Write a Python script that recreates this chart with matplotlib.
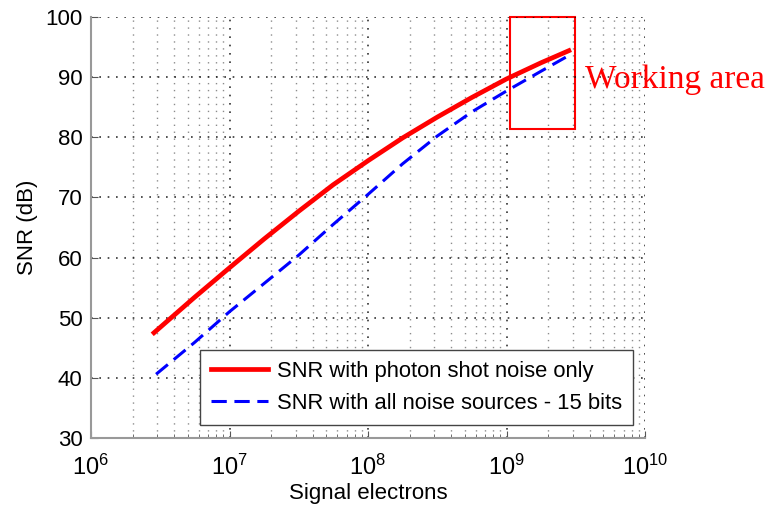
import matplotlib
matplotlib.use("Agg")
import matplotlib.pyplot as plt
from matplotlib.patches import Rectangle

# Data
x_red = [2.85e6, 5.6e6, 1e7, 1.78e7, 3.16e7, 5.6e7, 1e8, 1.78e8, 3.16e8, 5.6e8, 1e9, 1.78e9, 2.82e9]
snr_red = [47.5, 53.4, 58.3, 63.1, 67.7, 72.1, 76.1, 79.9, 83.35, 86.6, 89.7, 92.4, 94.4]
x_blue = [2.95e6, 5.6e6, 1e7, 1.78e7, 3.16e7, 5.6e7, 1e8, 1.78e8, 3.16e8, 5.6e8, 1e9, 1.78e9, 2.82e9]
snr_blue = [40.6, 45.9, 51.0, 55.7, 60.4, 65.5, 70.5, 75.6, 80.2, 84.2, 87.7, 91.0, 93.6]

red_label = "SNR with photon shot noise only"
blue_label = "SNR with all noise sources - 15 bits"
xlabel = "Signal electrons"
ylabel = "SNR (dB)"
xticks = [1e6, 1e7, 1e8, 1e9, 1e10]
xtick_labels = [r"$10^{6}$", r"$10^{7}$", r"$10^{8}$", r"$10^{9}$", r"$10^{10}$"]
yticks = [30, 40, 50, 60, 70, 80, 90, 100]
work_x = [1.06e9, 3.1e9]
work_y = [81.4, 100]
work_text = "Working area"

plt.rcParams['font.family'] = ['Liberation Sans', 'DejaVu Sans']
plt.rcParams['mathtext.fontset'] = 'custom'
plt.rcParams['mathtext.rm'] = 'Liberation Sans'
plt.rcParams['mathtext.it'] = 'Liberation Sans'

fig = plt.figure(figsize=(7.67, 5.08), dpi=100)
ax = fig.add_axes([91/767, 1 - 438/508, (645-91)/767, (438-17)/508])

ax.plot(x_red, snr_red, color='red', lw=3.4, label=red_label)
ax.plot(x_blue, snr_blue, color='blue', lw=2.2, ls=(0, (5, 2.5)), label=blue_label)

ax.set_xscale('log')
ax.set_xlim(1e6, 1e10)
ax.set_ylim(30, 100)
ax.set_xticks(xticks)
ax.set_xticklabels(xtick_labels, fontsize=17)
ax.set_yticks(yticks)
ax.set_yticklabels([str(v) for v in yticks], fontsize=16)

ax.grid(True, which='major', axis='both', ls=(0, (1, 4)), color='black', lw=1.2, alpha=0.8)
ax.grid(True, which='minor', axis='x', ls=(0, (1, 4)), color='black', lw=1.0, alpha=0.45)
ax.tick_params(axis='both', which='both', direction='in', colors='#555555', labelcolor='black')
ax.tick_params(axis='x', which='major', pad=12, length=5)
ax.tick_params(axis='x', which='minor', length=3)
ax.tick_params(axis='y', which='major', length=5, pad=6)

for side in ['top', 'right']:
    ax.spines[side].set_visible(False)
for side in ['left', 'bottom']:
    ax.spines[side].set_color('#999999')
    ax.spines[side].set_linewidth(1.5)

ax.set_xlabel(xlabel, fontsize=16, labelpad=2)
ax.set_ylabel(ylabel, fontsize=16)
ax.yaxis.set_label_coords(-0.096, 0.5)

rect = Rectangle((work_x[0], work_y[0]), work_x[1] - work_x[0], work_y[1] - work_y[0],
                 fill=False, edgecolor='red', lw=1.5, clip_on=False)
ax.add_patch(rect)
ax.text(3.7e9, 89.5, work_text, color='red', fontsize=24, family='Liberation Serif',
        va='center', ha='left', clip_on=False)

leg = ax.legend(loc='lower right', bbox_to_anchor=(633/767, 1 - 425/508), bbox_transform=fig.transFigure,
                fontsize=15.8, frameon=True, fancybox=False, framealpha=1, edgecolor='#444444',
                handlelength=2.6, borderpad=0.5, labelspacing=0.5, handletextpad=0.4,
                borderaxespad=0)
leg.get_frame().set_linewidth(1.0)

fig.savefig("out.png", dpi=100)
